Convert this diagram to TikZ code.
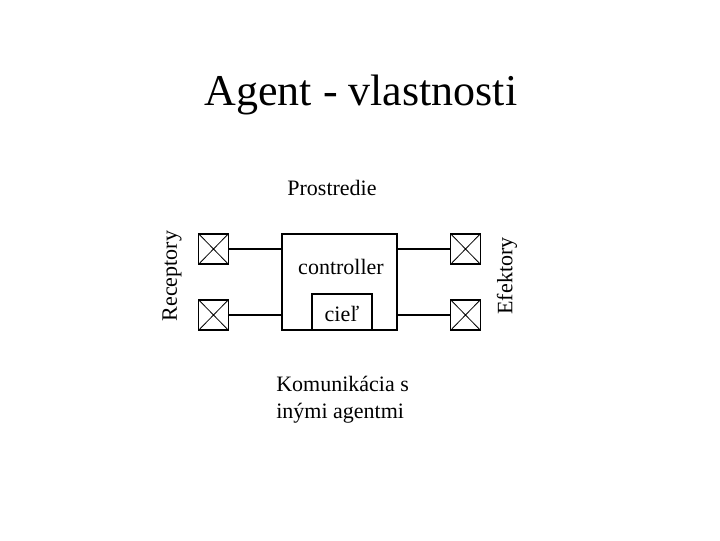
\documentclass[tikz,border=0pt]{standalone}
\usepackage{fontspec}
\setmainfont{Liberation Serif}
\begin{document}
\begin{tikzpicture}[x=0.75pt,y=-0.75pt,
  xbox/.style={draw,line width=0.8pt,minimum width=22pt,minimum height=22.5pt,inner sep=0pt,cross out inner},
  frame/.style={draw,line width=0.8pt,inner sep=0pt},
  txt/.style={font=\fontsize{16.5}{20}\selectfont,inner sep=0pt},
  link/.style={line width=0.8pt}]
\tikzset{cross out inner/.style={path picture={\draw[line width=0.6pt] (path picture bounding box.south west)--(path picture bounding box.north east) (path picture bounding box.north west)--(path picture bounding box.south east);}}}
\useasboundingbox (0,0) rectangle (720,540);
\node[inner sep=0pt,font=\fontsize{33}{40}\selectfont] (title) at (361,95) {Agent - vlastnosti};
\node[txt] (env) at (332,188) {Prostredie};
\node[txt,rotate=90] (rec) at (172,276) {Receptory};
\node[txt,rotate=90] (efk) at (507,276) {Efektory};
\node[xbox] (l1) at (213.5,249) {};
\node[xbox] (l2) at (213.5,315) {};
\node[xbox] (r1) at (465.5,249) {};
\node[xbox] (r2) at (465.5,315) {};
\node[frame,minimum width=86.25pt,minimum height=72pt] (ctrl) at (339.5,282) {};
\node[frame,minimum width=45pt,minimum height=27pt] (goal) at (342,312) {};
\node[txt] (ctext) at (341,267) {controller};
\node[txt] (gtext) at (342,314) {cieľ};
\draw[link] (l1.east) -- (ctrl.west |- l1.east);
\draw[link] (l2.east) -- (ctrl.west |- l2.east);
\draw[link] (r1.west) -- (ctrl.east |- r1.west);
\draw[link] (r2.west) -- (ctrl.east |- r2.west);
\node[txt,align=left,anchor=north west] (kom) at (276,376) {Komunikácia s\\inými agentmi};
\end{tikzpicture}
\end{document}
